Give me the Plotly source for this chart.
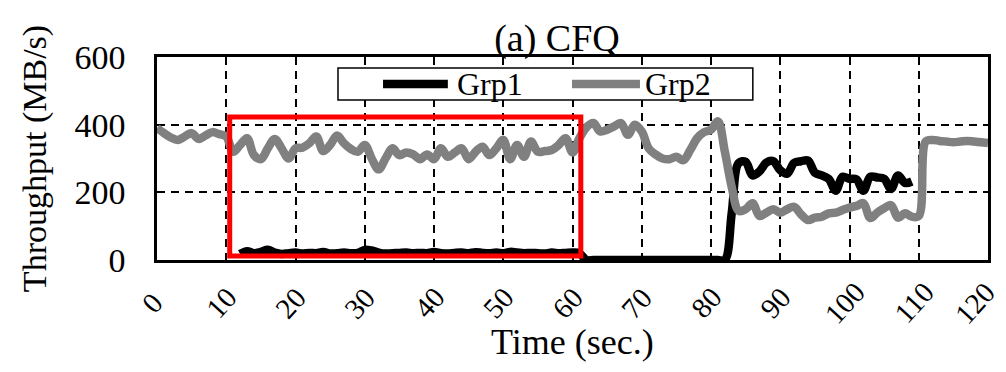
import plotly.graph_objects as go

# Throughput samples, one per second
time_grp2 = list(range(0, 121))
grp2 = [
    390, 375, 362, 355, 365, 375, 358, 368, 378, 372,
    365, 320, 340, 360, 310, 298, 330, 358, 330, 300,
    330, 332, 345, 365, 322, 340, 368, 345, 328, 320,
    340, 300, 268, 300, 330, 310, 318, 312, 298, 312,
    298, 330, 305, 318, 330, 298, 320, 335, 310, 330,
    355, 298, 340, 305, 350, 320, 322, 325, 340, 360,
    318, 360, 392, 405, 380, 385, 395, 405, 370, 400,
    380, 330, 312, 300, 298, 305, 295, 325, 360, 378,
    385, 410, 320, 215, 145, 150, 168, 130, 140, 150,
    140, 150, 157, 135, 118, 125, 128, 138, 140, 148,
    155, 160, 168, 124, 140, 153, 162, 125, 138, 128,
    130, 350, 355, 352, 350, 348, 350, 352, 350, 348,
    346,
]

time_grp1 = list(range(12, 110))
grp1 = [
    # 12-61
    18, 26, 20, 24, 30, 22, 18, 20, 22, 19,
    21, 20, 24, 19, 20, 22, 20, 21, 30, 28,
    22, 19, 20, 21, 22, 20, 21, 20, 24, 20,
    19, 21, 22, 20, 23, 21, 20, 22, 20, 24,
    22, 20, 21, 20, 19, 22, 20, 21, 22, 20,
    # 62-82
    0, 0, 0, 0, 0, 0, 0, 0, 0, 0,
    0, 0, 0, 0, 0, 0, 0, 0, 0, 0,
    0,
    # 83-109
    140, 287, 290, 250, 262, 288, 292, 265, 255, 287,
    292, 294, 258, 250, 240, 205, 246, 240, 238, 205,
    246, 244, 240, 210, 250, 228, 232,
]

x_ticks = [0, 10, 20, 30, 40, 50, 60, 70, 80, 90, 100, 110, 120]
y_ticks = [0, 200, 400, 600]

series = [
    ("Grp1", time_grp1, grp1, "#000000"),
    ("Grp2", time_grp2, grp2, "#808080"),
]

FONT = "Liberation Serif, Times New Roman, serif"
LINE_W = 8.5

# highlighted window (data units)
box_x = (10.5, 61.2)
box_y = (12, 423)

fig = go.Figure()
for name, t, v, color in series:
    fig.add_trace(go.Scatter(
        x=t, y=v, name=name, mode="lines",
        line=dict(color=color, width=LINE_W, shape="spline", smoothing=1.0),
        showlegend=False,
    ))

fig.update_layout(
    width=1006, height=372,
    margin=dict(l=157, r=18, t=57, b=112),
    paper_bgcolor="white", plot_bgcolor="white",
    font=dict(family=FONT, size=34, color="black"),
    title=dict(text="(a) CFQ", x=557 / 1006, xref="container", xanchor="center",
               y=1 - 38 / 372, yref="container", yanchor="middle",
               font=dict(family=FONT, size=38, color="black")),
)

fig.update_xaxes(
    range=[0, 120], tickvals=x_ticks, showticklabels=False,
    showgrid=True, gridcolor="black", gridwidth=1.6, griddash="8px,6px",
    showline=True, linecolor="black", linewidth=2.5, mirror=True,
    zeroline=False, ticks="",
)
fig.update_yaxes(
    range=[0, 600], tickvals=y_ticks, ticktext=[str(v) for v in y_ticks],
    showgrid=True, gridcolor="black", gridwidth=1.6, griddash="8px,6px",
    showline=True, linecolor="black", linewidth=2.5, mirror=True,
    zeroline=False, ticks="", ticklabelstandoff=22,
    tickfont=dict(family=FONT, size=34, color="black"),
    title=dict(text="Throughput (MB/s)", standoff=18,
               font=dict(family=FONT, size=34, color="black")),
)

# rotated time labels centred on each tick (last one nudged inside the page)
for v in x_ticks:
    fig.add_annotation(
        x=v, y=-0.212, xref="x", yref="paper", text=str(v),
        showarrow=False, textangle=-48, xanchor="center", yanchor="middle",
        xshift=-13 if v == x_ticks[-1] else -5, borderpad=0,
        font=dict(family=FONT, size=29, color="black"),
    )

# x-axis title
fig.add_annotation(
    x=0.5006, y=-0.404, xref="paper", yref="paper", text="Time (sec.)",
    showarrow=False, xanchor="center", yanchor="middle",
    font=dict(family=FONT, size=36, color="black"),
)

# highlight box
fig.add_shape(type="rect", xref="x", yref="y",
              x0=box_x[0], x1=box_x[1], y0=box_y[0], y1=box_y[1],
              line=dict(color="#ff0000", width=5), layer="above")

# legend box
fig.add_shape(type="rect", xref="paper", yref="paper",
              x0=0.2178, x1=0.717, y0=0.788, y1=0.946,
              line=dict(color="black", width=1.5), fillcolor="white", layer="above")
legend_pos = [(0.272, 0.350, 0.3586), (0.4994, 0.5812, 0.5848)]
for (name, _, _, color), (lx0, lx1, tx) in zip(series, legend_pos):
    fig.add_shape(type="line", xref="paper", yref="paper",
                  x0=lx0, x1=lx1, y0=0.867, y1=0.867,
                  line=dict(color=color, width=LINE_W), layer="above")
    fig.add_annotation(x=tx, y=0.867, xref="paper", yref="paper", text=name,
                       showarrow=False, xanchor="left", yanchor="middle",
                       font=dict(family=FONT, size=32, color="black"))

fig.write_html("out.html")
